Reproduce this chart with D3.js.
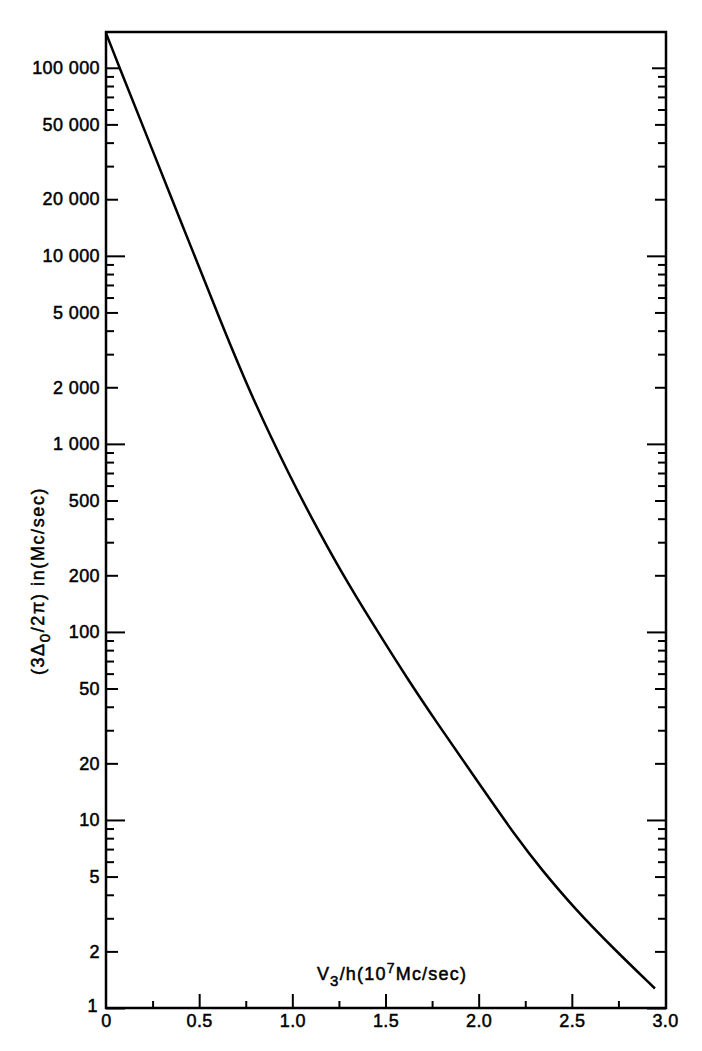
<!DOCTYPE html>
<html><head><meta charset="utf-8">
<script src="https://cdn.jsdelivr.net/npm/d3@7"></script>
<style>body{margin:0;background:#fff}svg text{font-family:"Liberation Sans",Arial,sans-serif;fill:#000}</style>
</head><body>
<svg id="c" width="702" height="1051"></svg>
<script>
// ---- data ----
const vValues     = [0, 0.0725, 0.196, 0.354, 0.442, 0.612, 0.789, 0.997, 1.095, 1.256, 1.435, 1.622, 1.766, 1.989, 2.213, 2.335, 2.512, 2.726, 2.946];
const deltaValues = [153000, 100000, 49600, 19950, 12130, 4560, 1711, 642, 419, 213, 109, 55.5, 34.0, 16.3, 7.82, 5.49, 3.40, 2.06, 1.27];
const yTickValues = [1, 2, 5, 10, 20, 50, 100, 200, 500, 1000, 2000, 5000, 10000, 20000, 50000, 100000];
const yTickLabels = ["1", "2", "5", "10", "20", "50", "100", "200", "500", "1 000", "2 000", "5 000", "10 000", "20 000", "50 000", "100 000"];
const xTickValues = [0, 0.5, 1, 1.5, 2, 2.5, 3];
const xTickLabels = ["0", "0.5", "1.0", "1.5", "2.0", "2.5", "3.0"];
const xMinorTicks = [0.25, 0.75, 1.25, 1.75, 2.25, 2.75];
const xDomain = [0, 3];
const yDomain = [1, 155000];

// ---- layout ----
const L = 106, R = 666, T = 32, B = 1008;
const FS = 18;
const svg = d3.select("#c");
const x = d3.scaleLinear().domain(xDomain).range([L, R - 1]);
const y = d3.scaleLog().domain(yDomain).range([B, T]);

const decades = [], mids = [], smalls = [];
for (let e = 0; e <= 5; e++) {
  for (let m = 1; m <= 9; m++) {
    const v = m * Math.pow(10, e);
    if (v > yDomain[1]) continue;
    if (m === 1) decades.push(v); else if (m === 2 || m === 5) mids.push(v); else smalls.push(v);
  }
}

function tickAxis(axisFn, scale, values, size, tx, ty) {
  const g = svg.append("g").attr("transform", `translate(${tx},${ty})`)
    .call(axisFn(scale).tickValues(values).tickSize(size).tickFormat(""));
  g.select(".domain").remove();
  g.selectAll("line").attr("stroke", "#000").attr("stroke-width", 2);
  return g;
}
// left axis ticks (pointing inward)
tickAxis(d3.axisRight, y, decades.filter(d => d < 100000), 19, L, 0);
tickAxis(d3.axisRight, y, [100000], 13, L, 0);
tickAxis(d3.axisRight, y, mids, 12, L, 0);
tickAxis(d3.axisRight, y, smalls, 8, L, 0);
// right axis ticks
tickAxis(d3.axisLeft, y, decades.filter(d => d < 100000), 19, R, 0);
tickAxis(d3.axisLeft, y, [100000], 14, R, 0);
tickAxis(d3.axisLeft, y, mids, 11, R, 0);
tickAxis(d3.axisLeft, y, smalls, 8, R, 0);
// bottom ticks
tickAxis(d3.axisTop, x, xTickValues.filter(d => d > 0 && d < 3), 14, 0, B);
tickAxis(d3.axisTop, x, xMinorTicks, 7, 0, B);

// frame
svg.append("path")
  .attr("d", `M${L},${T}H${R}V${B}H${L}Z`)
  .attr("fill", "none").attr("stroke", "#000").attr("stroke-width", 2.5);

function styleText(sel) {
  sel.attr("font-size", FS).attr("font-family", '"Liberation Sans",Arial,sans-serif')
    .attr("stroke", "#000").attr("stroke-width", 0.5).attr("letter-spacing", 0.4);
}
// y labels
const yl = svg.append("g").attr("transform", `translate(${L},0)`)
  .call(d3.axisLeft(y).tickValues(yTickValues).tickSize(0).tickPadding(6)
    .tickFormat((d, i) => yTickLabels[i]));
yl.select(".domain").remove();
styleText(yl.selectAll("text"));
yl.selectAll("text").filter(d => d === 1).attr("x", -8).attr("dy", "0.2em");

// x labels
const xl = svg.append("g").attr("transform", `translate(0,${B})`)
  .call(d3.axisBottom(x).tickValues(xTickValues).tickSize(0).tickPadding(6)
    .tickFormat((d, i) => xTickLabels[i]));
xl.select(".domain").remove();
styleText(xl.selectAll("text"));

// curve
const pts = vValues.map((v, i) => [v, deltaValues[i]]);
svg.append("path").datum(pts)
  .attr("d", d3.line().x(d => x(d[0])).y(d => y(d[1])).curve(d3.curveBasis))
  .attr("fill", "none").attr("stroke", "#000").attr("stroke-width", 2.5);

// x title
const xt = svg.append("text").attr("x", 392).attr("y", 980).attr("text-anchor", "middle");
styleText(xt);
xt.attr("letter-spacing", 1.2);
xt.append("tspan").text("V");
xt.append("tspan").attr("dy", 6).attr("font-size", 15).text("3");
xt.append("tspan").attr("dy", -6).text("/h(10");
xt.append("tspan").attr("dy", -7).attr("font-size", 14).text("7");
xt.append("tspan").attr("dy", 7).text("Mc/sec)");

// y title
const yt = svg.append("text").attr("transform", "translate(44,581) rotate(-90)")
  .attr("text-anchor", "middle");
styleText(yt);
yt.attr("letter-spacing", 1.6);
yt.append("tspan").text("(3Δ");
yt.append("tspan").attr("dy", 6).attr("font-size", 15).text("0");
yt.append("tspan").attr("dy", -6).text("/2π) in(Mc/sec)");
</script>
</body></html>
